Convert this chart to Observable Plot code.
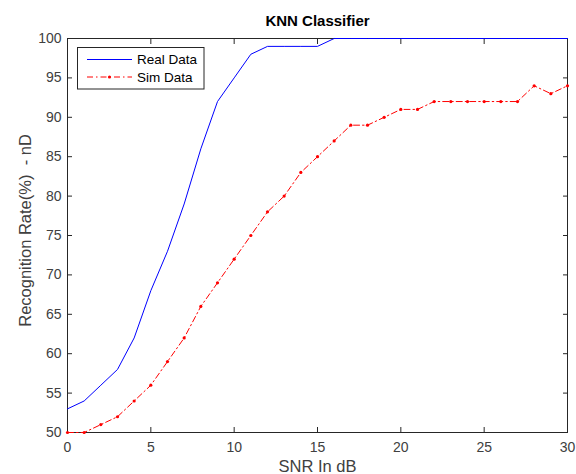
<!DOCTYPE html>
<html>
<head>
<meta charset="utf-8">
<script src="https://cdn.jsdelivr.net/npm/d3@7"></script>
<script src="https://cdn.jsdelivr.net/npm/@observablehq/plot@0.6"></script>
<style>
  html, body { margin: 0; padding: 0; background: #fff; }
  #wrap { position: relative; width: 576px; height: 474px; font-family: "Liberation Sans", Arial, sans-serif; }
  #legend { position: absolute; left: 77px; top: 47px; }
</style>
</head>
<body>
<div id="wrap"></div>
<script>
const snr = d3.range(0, 31);
const realData = [53, 54, 56, 58, 62, 68, 73, 79, 86, 92, 95, 98, 99, 99, 99, 99,
  100, 100, 100, 100, 100, 100, 100, 100, 100, 100, 100, 100, 100, 100, 100];
const simData = [50, 50, 51, 52, 54, 56, 59, 62, 66, 69, 72, 75, 78, 80, 83, 85,
  87, 89, 89, 90, 91, 91, 92, 92, 92, 92, 92, 92, 94, 93, 94];
const xTicks = [0, 5, 10, 15, 20, 25, 30];
const yTicks = [50, 55, 60, 65, 70, 75, 80, 85, 90, 95, 100];
const titleText = "KNN Classifier";
const xLabel = "SNR In dB";
const yLabel = "Recognition Rate(%)  - nD";
const seriesNames = ["Real Data", "Sim Data"];

const real = snr.map((x, i) => ({x, y: realData[i]}));
const sim = snr.map((x, i) => ({x, y: simData[i]}));

const axisColor = "#262626";
const textColor = "#404040";

const chart = Plot.plot({
  width: 576,
  height: 474,
  marginLeft: 67,
  marginRight: 9,
  marginTop: 38,
  marginBottom: 42,
  style: {fontFamily: "'Liberation Sans', Arial, sans-serif", background: "#fff", overflow: "visible"},
  x: {domain: [0, 30]},
  y: {domain: [50, 100]},
  marks: [
    Plot.frame({stroke: axisColor, strokeWidth: 1}),
    Plot.axisX({anchor: "bottom", ticks: xTicks, tickSize: -5, tickPadding: 15, label: null,
      stroke: axisColor, fill: textColor, fontSize: 14}),
    Plot.axisX({anchor: "top", ticks: xTicks, tickSize: -5, tickFormat: () => "", label: null, stroke: axisColor}),
    Plot.axisY({anchor: "left", ticks: yTicks, tickSize: -5, tickPadding: 11, label: null,
      stroke: axisColor, fill: textColor, fontSize: 14}),
    Plot.axisY({anchor: "right", ticks: yTicks, tickSize: -5, tickFormat: () => "", label: null, stroke: axisColor}),
    Plot.line(real, {x: "x", y: "y", stroke: "#0000ff", strokeWidth: 1}),
    Plot.line(sim, {x: "x", y: "y", stroke: "#ff0000", strokeWidth: 1, strokeDasharray: "6,3,1.5,3"}),
    Plot.dot(sim, {x: "x", y: "y", r: 1.6, fill: "#ff0000", stroke: "none"}),
    Plot.text([titleText], {frameAnchor: "top", dy: -17, text: d => d, fontSize: 15, fontWeight: "bold", fill: "#000", lineAnchor: "middle", textAnchor: "middle"}),
    Plot.text([xLabel], {frameAnchor: "bottom", dy: 34, text: d => d, fontSize: 16.5, fill: textColor, lineAnchor: "middle", textAnchor: "middle"}),
    Plot.text([yLabel], {frameAnchor: "left", dx: -42, dy: -5, rotate: -90, text: d => d, fontSize: 16.5, fill: textColor, lineAnchor: "middle", textAnchor: "middle"})
  ]
});

const wrap = document.getElementById("wrap");
wrap.appendChild(chart);

// legend
const legend = document.createElementNS("http://www.w3.org/2000/svg", "svg");
legend.setAttribute("id", "legend");
legend.setAttribute("width", 128);
legend.setAttribute("height", 43);
const sel = d3.select(legend);
sel.append("rect").attr("x", 0.5).attr("y", 0.5).attr("width", 126.5).attr("height", 41.5)
  .attr("fill", "#fff").attr("stroke", axisColor).attr("stroke-width", 1);
const rows = [
  {name: seriesNames[0], color: "#0000ff", dash: null, marker: false},
  {name: seriesNames[1], color: "#ff0000", dash: "6,3,1.5,3", marker: true}
];
rows.forEach((r, i) => {
  const y = 12.5 + i * 17.5;
  sel.append("line").attr("x1", 10).attr("x2", 55).attr("y1", y).attr("y2", y)
    .attr("stroke", r.color).attr("stroke-width", 1).attr("stroke-dasharray", r.dash);
  if (r.marker) sel.append("circle").attr("cx", 32.5).attr("cy", y).attr("r", 1.6).attr("fill", r.color);
  sel.append("text").attr("x", 60).attr("y", y).attr("dy", "0.35em")
    .attr("font-family", "'Liberation Sans', Arial, sans-serif").attr("font-size", 13.5)
    .attr("fill", "#000").text(r.name);
});
wrap.appendChild(legend);
</script>
</body>
</html>
